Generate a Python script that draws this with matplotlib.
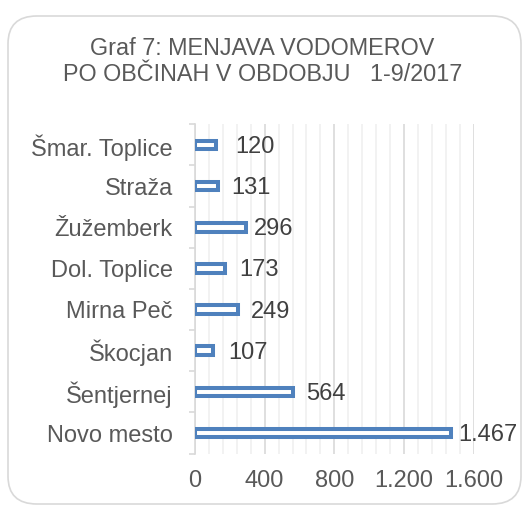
import matplotlib.pyplot as plt
from matplotlib.patches import FancyBboxPatch
from matplotlib.ticker import MultipleLocator, FuncFormatter

# data, top to bottom as in the chart
obcine = ["Šmar. Toplice", "Straža", "Žužemberk", "Dol. Toplice",
          "Mirna Peč", "Škocjan", "Šentjernej", "Novo mesto"]
vodomeri = [120, 131, 296, 173, 249, 107, 564, 1467]
title = "Graf 7: MENJAVA VODOMEROV\nPO OBČINAH V OBDOBJU   1-9/2017"

# label gap after bar end, in points (as placed in the original)
label_gap = [14, 10, 5, 10, 9, 11, 9, 5]

plt.rcParams['font.family'] = ['Liberation Sans', 'DejaVu Sans']

blue = "#4f81bd"
grey_txt = "#595959"

fig = plt.figure(figsize=(5.25, 5.05), dpi=100)
ax = fig.add_axes([0.371, 0.1018, 0.532, 0.652])

# rounded frame around the chart
frame = FancyBboxPatch((8 / 525, 1 / 505), 513 / 525, 488 / 505,
                       boxstyle="round,pad=0,rounding_size=0.055",
                       transform=fig.transFigure, facecolor="none",
                       edgecolor="#d9d9d9", linewidth=1.2, zorder=0)
fig.patches.append(frame)

pos = list(range(len(obcine)))
ax.barh(pos, vodomeri, height=0.21, color="white", edgecolor=blue,
        linewidth=2.9, zorder=3)

fmt = lambda v: f"{v:,.0f}".replace(",", ".")
for p, v, g in zip(pos, vodomeri, label_gap):
    ax.annotate(fmt(v), xy=(v, p), xytext=(g, -1.5), textcoords="offset points",
                ha="left", va="center", fontsize=17, color="#404040", zorder=4)

ax.set_xlim(0, 1600)
ax.set_ylim(len(obcine) - 0.5, -0.5)
ax.xaxis.set_major_locator(MultipleLocator(400))
ax.xaxis.set_minor_locator(MultipleLocator(80))
ax.xaxis.set_major_formatter(FuncFormatter(lambda v, _: fmt(v)))
ax.grid(axis="x", which="major", color="#d9d9d9", linewidth=1.2, zorder=0)
ax.grid(axis="x", which="minor", color="#f0f0f0", linewidth=1.2, zorder=0)
ax.set_axisbelow(True)

ax.set_yticks(pos)
ax.set_yticklabels(obcine)
ax.set_yticks([p - 0.5 for p in pos] + [len(obcine) - 0.5], minor=True)
ax.tick_params(axis="y", which="major", length=0, pad=22 * 0.72,
               labelsize=17, labelcolor=grey_txt)
ax.tick_params(axis="y", which="minor", length=4.3, color="#d9d9d9",
               width=1.2)
ax.tick_params(axis="x", which="both", length=0, pad=12,
               labelsize=17, labelcolor=grey_txt)

for s in ["top", "right", "bottom"]:
    ax.spines[s].set_visible(False)
ax.spines["left"].set_color("#d9d9d9")
ax.spines["left"].set_linewidth(1.2)

fig.text(0.5, 1 - 61.5 / 505, title, ha="center", va="center",
         fontsize=16.8, color=grey_txt, linespacing=1.15)

fig.savefig("out.png", dpi=100)
